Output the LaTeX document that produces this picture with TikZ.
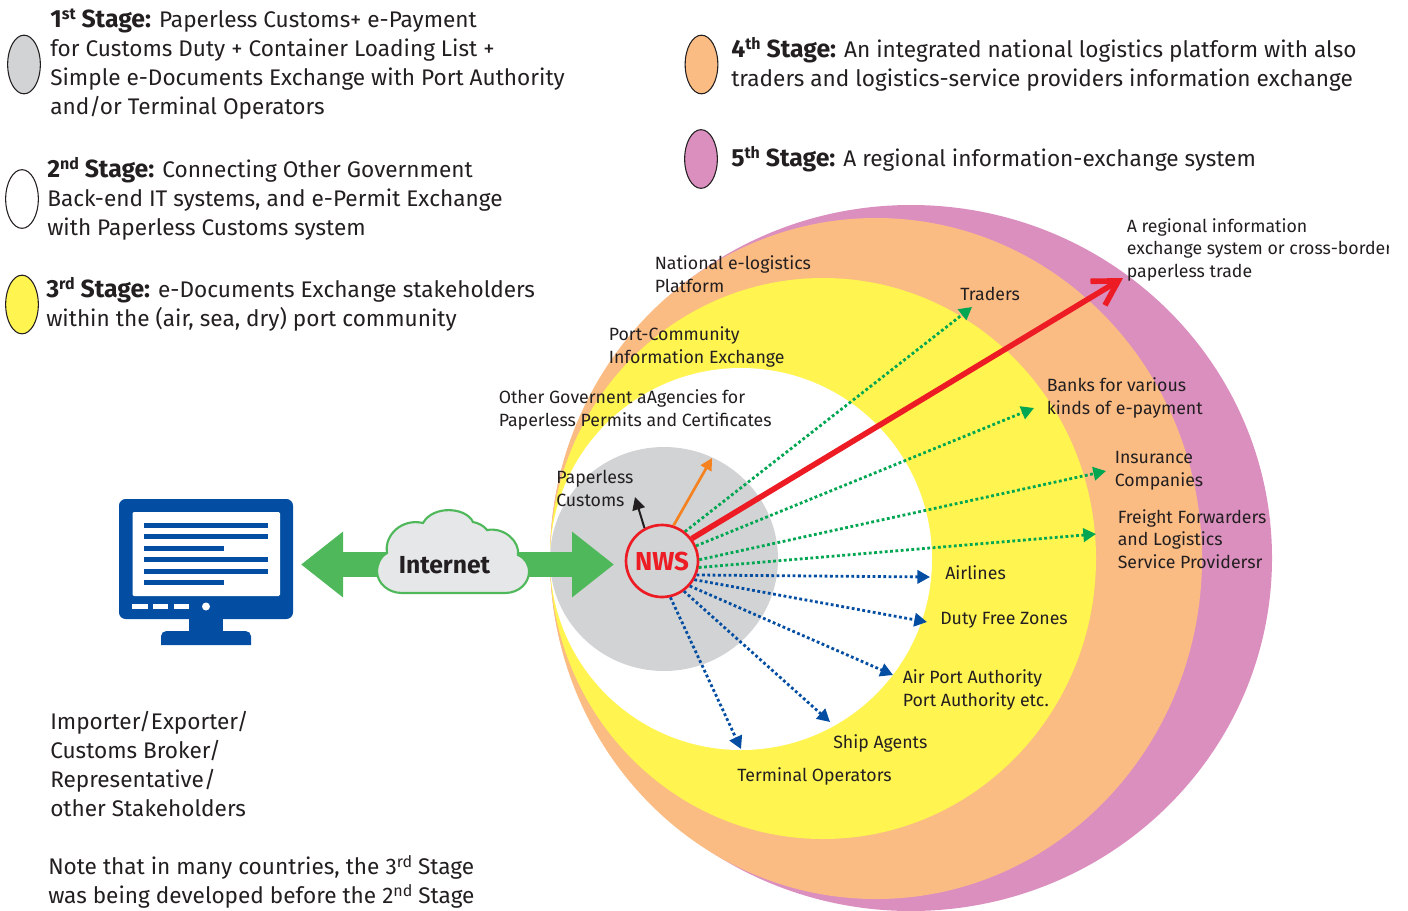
\documentclass[tikz,border=0pt]{standalone}
\usepackage{fontspec}
\setmainfont{Fira Sans}
\usetikzlibrary{arrows.meta,shapes.geometric}
\definecolor{cpink}{HTML}{DB8FBF}
\definecolor{corange}{HTML}{FBBC84}
\definecolor{cyellow}{HTML}{FFF450}
\definecolor{cgray}{HTML}{D1D3D4}
\definecolor{cgreen}{HTML}{4FB85B}
\definecolor{cdot}{HTML}{00A651}
\definecolor{cblue}{HTML}{034EA2}
\definecolor{cred}{HTML}{ED1C24}
\definecolor{ctext}{HTML}{231F20}
\definecolor{carrow}{HTML}{F58220}
\definecolor{cloudfill}{HTML}{E6E7E8}
\tikzset{
  legend/.style={ellipse,draw=ctext,line width=0.8pt,inner sep=0pt,minimum width=24.5pt,minimum height=44pt},
  body/.style={anchor=base west,align=left,inner sep=0pt,font=\fontsize{16.95}{21.75}\selectfont,text=ctext},
  lab/.style={anchor=base west,align=left,inner sep=0pt,font=\fontsize{13.3}{16.8}\selectfont,text=ctext},
  godot/.style={draw=cdot,line width=2.1pt,dash pattern=on 2.1pt off 1.9pt,-{Triangle[length=9.5pt,width=10pt,fill=cdot]}},
  bldot/.style={draw=cblue,line width=2.1pt,dash pattern=on 2.1pt off 1.9pt,-{Triangle[length=9.5pt,width=10pt,fill=cblue]}},
  bar/.style={fill=cblue},
}
\newcommand{\sps}[1]{\raisebox{0.3em}{\fontsize{12}{13}\selectfont #1}}
\newcommand{\stg}[2]{\textbf{\fontsize{18.6}{21.75}\selectfont #1\sps{#2} Stage:}}
\begin{document}
\begin{tikzpicture}[x=0.75pt,y=-0.75pt]
\useasboundingbox (0,0) rectangle (1408,910);
\begin{scope}
\clip (0,0) rectangle (1408,910);
\fill[cpink] (911,558) circle [x radius=361,y radius=353];
\fill[corange] (876,558.5) circle [x radius=326,y radius=340.5];
\fill[cyellow] (823,558.5) circle [x radius=273,y radius=280.5];
\fill[white] (741,559) circle [x radius=191,y radius=191];
\fill[cgray] (664,559) circle [x radius=114,y radius=112];
\end{scope}
% legend
\node[legend,fill=cgray] (lg1) at (24,64.5) {};
\node[legend,fill=white] (lg2) at (22,199) {};
\node[legend,fill=cyellow] (lg3) at (22,304.5) {};
\node[legend,fill=corange] (lg4) at (701.5,64.5) {};
\node[legend,fill=cpink] (lg5) at (701,159) {};
\node[body] (s1) at (50,114) {\stg{1}{st} Paperless Customs+ e-Payment\\for Customs Duty + Container Loading List +\\Simple e-Documents Exchange with Port Authority\\and/or Terminal Operators};
\node[body] (s2) at (47,235) {\stg{2}{nd} Connecting Other Government\\Back-end IT systems, and e-Permit Exchange\\with Paperless Customs system};
\node[body] (s3) at (46,326) {\stg{3}{rd} e-Documents Exchange stakeholders\\within the (air, sea, dry) port community};
\node[body] (s4) at (731,86) {\stg{4}{th} An integrated national logistics platform with also\\traders and logistics-service providers information exchange};
\node[body] (s5) at (731,166) {\stg{5}{th} A regional information-exchange system};
\node[body] (imp) at (50,816) {Importer/Exporter/\\Customs Broker/\\Representative/\\other Stakeholders};
\node[body] (note) at (48,903) {Note that in many countries, the 3\sps{rd} Stage\\was being developed before the 2\sps{nd} Stage};
% computer
\fill[cblue,rounded corners=5pt] (119,499) rectangle (293,619);
\fill[white,rounded corners=1pt] (132.5,512) rectangle (280,596);
\foreach \yy in {525,536,559,571}{\fill[bar] (144,\yy-2.5) rectangle (268,\yy+2.5);}
\foreach \yy in {548,582}{\fill[bar] (144,\yy-2.5) rectangle (224,\yy+2.5);}
\fill[white] (132,603.5) rectangle (148,609);
\fill[white] (153,603.5) rectangle (168,609);
\fill[white] (174,603.5) rectangle (189,609);
\fill[white] (206,606.5) circle [radius=4];
\fill[cblue] (189,619) rectangle (223,632);
\fill[cblue,rounded corners=4pt] (161,645) -- (161,631) -- (251,631) -- (251,645);
% big arrow
\coordinate (aL) at (301,564.5);
\coordinate (aR) at (614,564.5);
\draw[cgreen,line width=18.75pt,{Triangle[length=31.5pt,width=47.25pt]}-{Triangle[length=31.5pt,width=47.25pt]}] (aL) -- (aR);
% cloud
\draw[cgreen,line width=1.6pt,fill=cloudfill] (402,593) -- (505,593)
  .. controls (520,593) and (529,582) .. (529,572)
  .. controls (529,564) and (525,558) .. (518,555)
  .. controls (520,542) and (505,527) .. (487,530)
  .. controls (483,525) and (478,523) .. (473,522)
  .. controls (466,507) and (433,505) .. (423,523)
  .. controls (402,518) and (384,535) .. (387,553)
  .. controls (380,557) and (377,565) .. (377,571)
  .. controls (377,583) and (388,593) .. (402,593) -- cycle;
\node[inner sep=0pt,font=\fontsize{18.5}{20}\selectfont\bfseries,text=ctext] (net) at (444.5,565.5) {Internet};
% NWS
\node[circle,draw=cred,line width=2pt,minimum size=54pt,inner sep=0pt,font=\fontsize{19.5}{20}\selectfont\bfseries,text=cred] (nws) at (662,561) {NWS};
% targets
\coordinate (g1) at (972,307);
\coordinate (g2) at (1034,408);
\coordinate (g3) at (1106,471);
\coordinate (g4) at (1096,534);
\coordinate (b1) at (930,577);
\coordinate (b2) at (927,622);
\coordinate (b3) at (893,675);
\coordinate (b4) at (830,722);
\coordinate (b5) at (741,749);
\coordinate (r1) at (1123,278);
\coordinate (o1) at (712,458);
\coordinate (k1) at (635,497);
\draw[godot] (nws.52) -- (g1);
\draw[godot] (nws.24) -- (g2);
\draw[godot] (nws.2) -- (g3);
\draw[godot] (nws.-10) -- (g4);
\draw[bldot] (nws.-22) -- (b1);
\draw[bldot] (nws.-30) -- (b2);
\draw[bldot] (nws.-42) -- (b3);
\draw[bldot] (nws.-54) -- (b4);
\draw[bldot] (nws.-77) -- (b5);
\draw[cred,line width=4.2pt,-{Straight Barb[length=18pt,width=21pt]}] (nws.37) -- (r1);
\draw[carrow,line width=2pt,-{Triangle[length=9pt,width=9pt]}] (nws.72) -- (o1);
\draw[ctext,line width=1.5pt,-{Triangle[length=9.5pt,width=9.5pt]}] (nws.118) -- (k1);
% labels
\node[lab] (l1) at (654.5,292) {National e-logistics\\Platform};
\node[lab] (l2) at (608.5,363) {Port-Community\\Information Exchange};
\node[lab] (l3) at (498.5,426) {Other Governent aAgencies for\\Paperless Permits and Certificates};
\node[lab] (l4) at (556,506) {Paperless\\Customs};
\node[lab] (l5) at (960,300) {Traders};
\begin{scope}
\clip (1100,200) rectangle (1388,300);
\node[lab] (l6) at (1126.5,277) {A regional information\\exchange system or cross-border\\paperless trade};
\end{scope}
\node[lab] (l7) at (1046.5,414) {Banks for various\\kinds of e-payment};
\node[lab] (l8) at (1114.5,486) {Insurance\\Companies};
\node[lab] (l9) at (1117.5,568) {Freight Forwarders\\and Logistics\\Service Providersr};
\node[lab] (l10) at (945,579) {Airlines};
\node[lab] (l11) at (940,624) {Duty Free Zones};
\node[lab] (l12) at (902.5,706) {Air Port Authority\\Port Authority etc.};
\node[lab] (l13) at (833,748) {Ship Agents};
\node[lab] (l14) at (737,781) {Terminal Operators};
\end{tikzpicture}
\end{document}
